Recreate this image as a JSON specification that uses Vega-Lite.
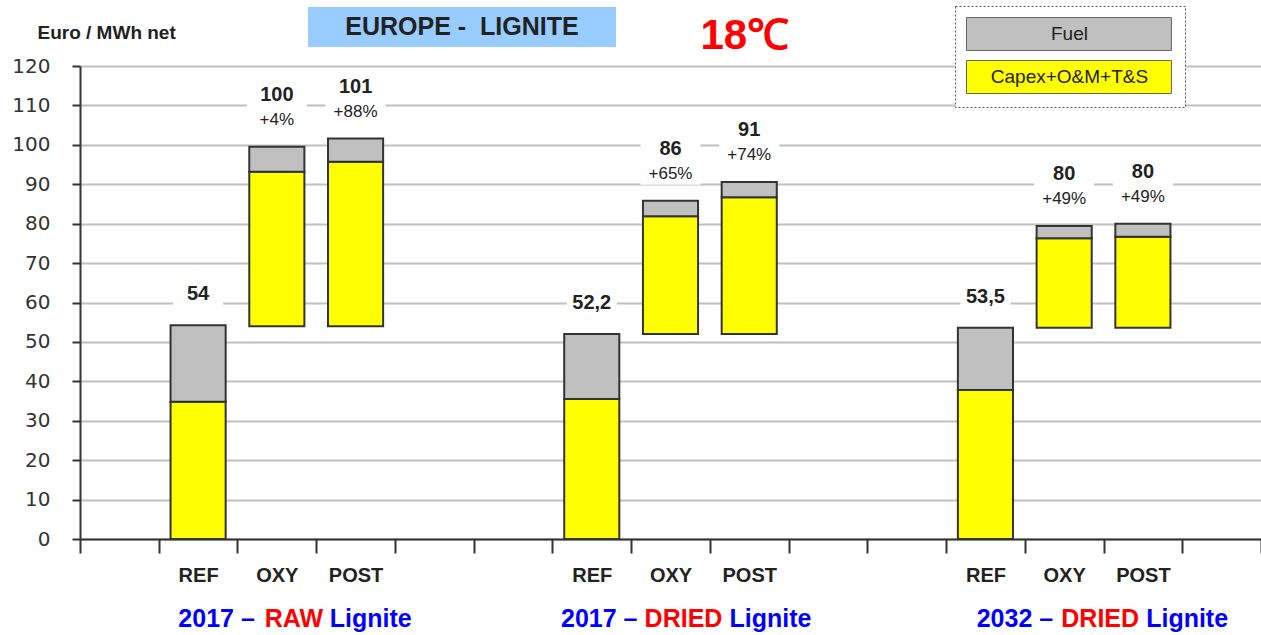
{
  "$schema": "https://vega.github.io/schema/vega-lite/v6.json",
  "width": 1181,
  "height": 473,
  "autosize": {"type": "none"},
  "padding": {"left": 80, "top": 66, "right": 0, "bottom": 96},
  "background": "white",
  "config": {"view": {"stroke": null}, "font": "Liberation Sans", "legend": {"strokeDash": [2, 2]}},
  "datasets": {
    "bars": [
      {"cat": "g1|REF", "comp": "Capex+O&M+T&S", "lo": 0, "hi": 34.8},
      {"cat": "g1|REF", "comp": "Fuel", "lo": 34.8, "hi": 54.2},
      {"cat": "g1|OXY", "comp": "Capex+O&M+T&S", "lo": 54.0, "hi": 93.2},
      {"cat": "g1|OXY", "comp": "Fuel", "lo": 93.2, "hi": 99.5},
      {"cat": "g1|POST", "comp": "Capex+O&M+T&S", "lo": 54.0, "hi": 95.7},
      {"cat": "g1|POST", "comp": "Fuel", "lo": 95.7, "hi": 101.6},
      {"cat": "g2|REF", "comp": "Capex+O&M+T&S", "lo": 0, "hi": 35.5},
      {"cat": "g2|REF", "comp": "Fuel", "lo": 35.5, "hi": 52.0},
      {"cat": "g2|OXY", "comp": "Capex+O&M+T&S", "lo": 52.0, "hi": 81.9},
      {"cat": "g2|OXY", "comp": "Fuel", "lo": 81.9, "hi": 85.8},
      {"cat": "g2|POST", "comp": "Capex+O&M+T&S", "lo": 52.0, "hi": 86.7},
      {"cat": "g2|POST", "comp": "Fuel", "lo": 86.7, "hi": 90.6},
      {"cat": "g3|REF", "comp": "Capex+O&M+T&S", "lo": 0, "hi": 37.8},
      {"cat": "g3|REF", "comp": "Fuel", "lo": 37.8, "hi": 53.6},
      {"cat": "g3|OXY", "comp": "Capex+O&M+T&S", "lo": 53.6, "hi": 76.3},
      {"cat": "g3|OXY", "comp": "Fuel", "lo": 76.3, "hi": 79.4},
      {"cat": "g3|POST", "comp": "Capex+O&M+T&S", "lo": 53.6, "hi": 76.7},
      {"cat": "g3|POST", "comp": "Fuel", "lo": 76.7, "hi": 80.0}
    ],
    "labels": [
      {"cat": "g1|REF", "scen": "REF", "top": 54.2, "label": "54", "pct": ""},
      {"cat": "g1|OXY", "scen": "OXY", "top": 99.5, "label": "100", "pct": "+4%"},
      {"cat": "g1|POST", "scen": "POST", "top": 101.6, "label": "101", "pct": "+88%"},
      {"cat": "g2|REF", "scen": "REF", "top": 52.0, "label": "52,2", "pct": ""},
      {"cat": "g2|OXY", "scen": "OXY", "top": 85.8, "label": "86", "pct": "+65%"},
      {"cat": "g2|POST", "scen": "POST", "top": 90.6, "label": "91", "pct": "+74%"},
      {"cat": "g3|REF", "scen": "REF", "top": 53.6, "label": "53,5", "pct": ""},
      {"cat": "g3|OXY", "scen": "OXY", "top": 79.4, "label": "80", "pct": "+49%"},
      {"cat": "g3|POST", "scen": "POST", "top": 80.0, "label": "80", "pct": "+49%"}
    ],
    "groups": [
      {"cat": "g1|OXY", "grp": "g1", "a": "2017 –", "b": "RAW", "c": "Lignite"},
      {"cat": "g2|OXY", "grp": "g2", "a": "2017 –", "b": "DRIED", "c": "Lignite"},
      {"cat": "g3|OXY", "grp": "g3", "a": "2032 –", "b": "DRIED", "c": "Lignite"}
    ],
    "dummy": [{"k": 1}]
  },
  "layer": [
    {
      "data": {"name": "bars"},
      "mark": {"type": "bar", "stroke": "#333333", "strokeWidth": 2, "width": {"band": 0.7}},
      "encoding": {
        "x": {
          "field": "cat", "type": "nominal", "sort": null,
          "scale": {"domain": ["b1|", "g1|REF", "g1|OXY", "g1|POST", "b2|", "b3|", "g2|REF", "g2|OXY", "g2|POST", "b4|", "b5|", "g3|REF", "g3|OXY", "g3|POST", "b6|"], "paddingInner": 0, "paddingOuter": 0},
          "axis": {
            "title": "18℃", "titleX": 620, "titleY": -491, "titleAlign": "left", "titleBaseline": "alphabetic",
            "titleColor": "#ff0000", "titleFontSize": 42, "titleFontWeight": "bold", "titleFont": "Liberation Sans",
            "labelExpr": "split(datum.value, '|')[1]", "labelAngle": 0,
            "labelFont": "Liberation Sans", "labelFontSize": 20, "labelFontWeight": "bold", "labelColor": "#222222",
            "labelPadding": 22, "labelBaseline": "middle",
            "tickBand": "extent", "tickSize": 14, "tickColor": "#333333", "tickWidth": 2,
            "domainColor": "#333333", "domainWidth": 2, "grid": false
          }
        },
        "y": {
          "field": "lo", "type": "quantitative",
          "scale": {"domain": [0, 120], "nice": false},
          "axis": {
            "title": "Euro / MWh net", "titleAngle": 0, "titleX": -43, "titleY": -34, "titleAlign": "left", "titleBaseline": "middle",
            "titleFont": "Liberation Sans", "titleFontSize": 19, "titleFontWeight": "bold", "titleColor": "#222222",
            "values": [0, 10, 20, 30, 40, 50, 60, 70, 80, 90, 100, 110, 120], "labelOverlap": false,
            "grid": true, "gridColor": "#c0c0c0", "gridWidth": 2,
            "domainColor": "#333333", "domainWidth": 2, "tickColor": "#333333", "tickWidth": 2, "tickSize": 8,
            "labelFont": "DejaVu Sans", "labelFontSize": 20, "labelColor": "#333333", "labelPadding": 22
          }
        },
        "y2": {"field": "hi"},
        "fill": {
          "field": "comp", "type": "nominal",
          "scale": {"domain": ["Fuel", "Capex+O&M+T&S"], "range": ["#c0c0c0", "#ffff00"]},
          "legend": {
            "title": null, "orient": "none", "legendX": 875, "legendY": -60,
            "padding": 11, "strokeColor": "#555555", "fillColor": "white",
            "symbolType": "M-1,-1H11.42V1H-1Z", "symbolSize": 1089, "rowPadding": 5,
            "symbolStrokeColor": "#666666", "symbolStrokeWidth": 1,
            "labelAlign": "center", "labelOffset": 69.5, "labelLimit": 400,
            "labelFont": "Liberation Sans", "labelFontSize": 19, "labelColor": "#222222"
          }
        }
      }
    },
    {
      "data": {"name": "labels"},
      "transform": [{"filter": "datum.scen == 'REF'"}],
      "mark": {"type": "point", "shape": "M-1,-0.5H1V0.5H-1Z", "size": 2500, "filled": true, "fill": "white", "opacity": 1, "strokeWidth": 0, "yOffset": -31},
      "encoding": {"x": {"field": "cat", "type": "nominal"}, "y": {"field": "top", "type": "quantitative", "axis": {"values": [0, 10, 20, 30, 40, 50, 60, 70, 80, 90, 100, 110, 120]}}}
    },
    {
      "data": {"name": "labels"},
      "transform": [{"filter": "datum.scen != 'REF'"}],
      "mark": {"type": "point", "shape": "M-1,-0.8H1V0.8H-1Z", "size": 3600, "filled": true, "fill": "white", "opacity": 1, "strokeWidth": 0, "yOffset": -40},
      "encoding": {"x": {"field": "cat", "type": "nominal"}, "y": {"field": "top", "type": "quantitative", "axis": {"values": [0, 10, 20, 30, 40, 50, 60, 70, 80, 90, 100, 110, 120]}}}
    },
    {
      "data": {"name": "labels"},
      "transform": [{"filter": "datum.scen == 'REF'"}],
      "mark": {"type": "text", "font": "Liberation Sans", "fontSize": 20, "fontWeight": "bold", "color": "#222222", "baseline": "middle", "dy": -31},
      "encoding": {"x": {"field": "cat", "type": "nominal"}, "y": {"field": "top", "type": "quantitative", "axis": {"values": [0, 10, 20, 30, 40, 50, 60, 70, 80, 90, 100, 110, 120]}}, "text": {"field": "label"}}
    },
    {
      "data": {"name": "labels"},
      "transform": [{"filter": "datum.scen != 'REF'"}],
      "mark": {"type": "text", "font": "Liberation Sans", "fontSize": 20, "fontWeight": "bold", "color": "#222222", "baseline": "middle", "dy": -52},
      "encoding": {"x": {"field": "cat", "type": "nominal"}, "y": {"field": "top", "type": "quantitative", "axis": {"values": [0, 10, 20, 30, 40, 50, 60, 70, 80, 90, 100, 110, 120]}}, "text": {"field": "label"}}
    },
    {
      "data": {"name": "labels"},
      "transform": [{"filter": "datum.scen != 'REF'"}],
      "mark": {"type": "text", "font": "Liberation Sans", "fontSize": 17, "color": "#222222", "baseline": "middle", "dy": -27},
      "encoding": {"x": {"field": "cat", "type": "nominal"}, "y": {"field": "top", "type": "quantitative", "axis": {"values": [0, 10, 20, 30, 40, 50, 60, 70, 80, 90, 100, 110, 120]}}, "text": {"field": "pct"}}
    },
    {
      "data": {"name": "groups"},
      "transform": [{"filter": "datum.grp == 'g1'"}],
      "layer": [
        {"mark": {"type": "text", "font": "Liberation Sans", "fontSize": 25, "fontWeight": "bold", "color": "#0000ff", "baseline": "middle", "align": "right", "dx": -22, "dy": 80},
         "encoding": {"x": {"field": "cat", "type": "nominal"}, "y": {"datum": 0, "type": "quantitative", "axis": {"values": [0, 10, 20, 30, 40, 50, 60, 70, 80, 90, 100, 110, 120]}}, "text": {"field": "a"}}},
        {"mark": {"type": "text", "font": "Liberation Sans", "fontSize": 25, "fontWeight": "bold", "color": "#ff0000", "baseline": "middle", "align": "center", "dx": 17, "dy": 80},
         "encoding": {"x": {"field": "cat", "type": "nominal"}, "y": {"datum": 0, "type": "quantitative", "axis": {"values": [0, 10, 20, 30, 40, 50, 60, 70, 80, 90, 100, 110, 120]}}, "text": {"field": "b"}}},
        {"mark": {"type": "text", "font": "Liberation Sans", "fontSize": 25, "fontWeight": "bold", "color": "#0000ff", "baseline": "middle", "align": "left", "dx": 53, "dy": 80},
         "encoding": {"x": {"field": "cat", "type": "nominal"}, "y": {"datum": 0, "type": "quantitative", "axis": {"values": [0, 10, 20, 30, 40, 50, 60, 70, 80, 90, 100, 110, 120]}}, "text": {"field": "c"}}}
      ]
    },
    {
      "data": {"name": "groups"},
      "transform": [{"filter": "datum.grp == 'g2'"}],
      "layer": [
        {"mark": {"type": "text", "font": "Liberation Sans", "fontSize": 25, "fontWeight": "bold", "color": "#0000ff", "baseline": "middle", "align": "right", "dx": -33, "dy": 80},
         "encoding": {"x": {"field": "cat", "type": "nominal"}, "y": {"datum": 0, "type": "quantitative", "axis": {"values": [0, 10, 20, 30, 40, 50, 60, 70, 80, 90, 100, 110, 120]}}, "text": {"field": "a"}}},
        {"mark": {"type": "text", "font": "Liberation Sans", "fontSize": 25, "fontWeight": "bold", "color": "#ff0000", "baseline": "middle", "align": "center", "dx": 13, "dy": 80},
         "encoding": {"x": {"field": "cat", "type": "nominal"}, "y": {"datum": 0, "type": "quantitative", "axis": {"values": [0, 10, 20, 30, 40, 50, 60, 70, 80, 90, 100, 110, 120]}}, "text": {"field": "b"}}},
        {"mark": {"type": "text", "font": "Liberation Sans", "fontSize": 25, "fontWeight": "bold", "color": "#0000ff", "baseline": "middle", "align": "left", "dx": 59, "dy": 80},
         "encoding": {"x": {"field": "cat", "type": "nominal"}, "y": {"datum": 0, "type": "quantitative", "axis": {"values": [0, 10, 20, 30, 40, 50, 60, 70, 80, 90, 100, 110, 120]}}, "text": {"field": "c"}}}
      ]
    },
    {
      "data": {"name": "groups"},
      "transform": [{"filter": "datum.grp == 'g3'"}],
      "layer": [
        {"mark": {"type": "text", "font": "Liberation Sans", "fontSize": 25, "fontWeight": "bold", "color": "#0000ff", "baseline": "middle", "align": "right", "dx": -11, "dy": 80},
         "encoding": {"x": {"field": "cat", "type": "nominal"}, "y": {"datum": 0, "type": "quantitative", "axis": {"values": [0, 10, 20, 30, 40, 50, 60, 70, 80, 90, 100, 110, 120]}}, "text": {"field": "a"}}},
        {"mark": {"type": "text", "font": "Liberation Sans", "fontSize": 25, "fontWeight": "bold", "color": "#ff0000", "baseline": "middle", "align": "center", "dx": 36, "dy": 80},
         "encoding": {"x": {"field": "cat", "type": "nominal"}, "y": {"datum": 0, "type": "quantitative", "axis": {"values": [0, 10, 20, 30, 40, 50, 60, 70, 80, 90, 100, 110, 120]}}, "text": {"field": "b"}}},
        {"mark": {"type": "text", "font": "Liberation Sans", "fontSize": 25, "fontWeight": "bold", "color": "#0000ff", "baseline": "middle", "align": "left", "dx": 82, "dy": 80},
         "encoding": {"x": {"field": "cat", "type": "nominal"}, "y": {"datum": 0, "type": "quantitative", "axis": {"values": [0, 10, 20, 30, 40, 50, 60, 70, 80, 90, 100, 110, 120]}}, "text": {"field": "c"}}}
      ]
    },
    {
      "data": {"name": "dummy"},
      "mark": {"type": "point", "filled": true, "fill": "#99ccff", "opacity": 0},
      "encoding": {
        "shape": {
          "datum": "EUROPE -\u00a0 LIGNITE",
          "scale": {"range": ["M-1,-1H14.4V1H-1Z"]},
          "legend": {
            "title": null, "orient": "none", "legendX": 228, "legendY": -59, "padding": 0, "strokeColor": null,
            "symbolSize": 1600, "symbolFillColor": "#99ccff", "symbolStrokeWidth": 0, "symbolOpacity": 1,
            "labelAlign": "center", "labelOffset": 114, "labelLimit": 500,
            "labelFont": "Liberation Sans", "labelFontSize": 25, "labelFontWeight": "bold", "labelColor": "#222222"
          }
        }
      }
    }
  ]
}
